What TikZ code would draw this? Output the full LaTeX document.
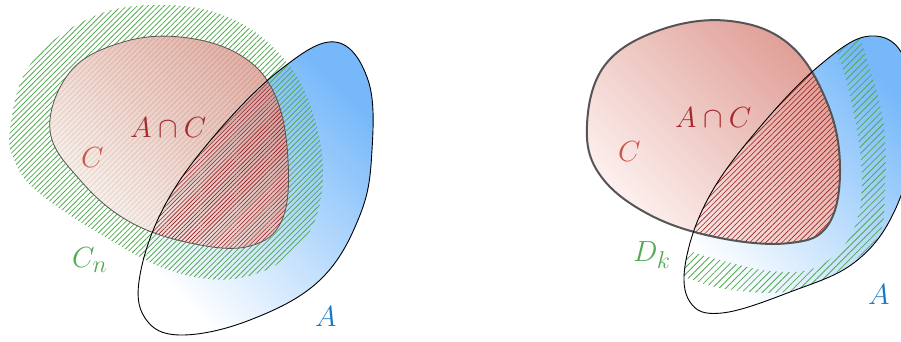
\documentclass[tikz,border=0pt]{standalone}
\usetikzlibrary{patterns.meta}

\definecolor{blueA}{RGB}{118,184,250}
\definecolor{redC}{RGB}{224,158,150}
\definecolor{redlow}{RGB}{253,243,241}
\definecolor{hatchred}{RGB}{150,30,35}
\definecolor{hatchgreen}{RGB}{80,170,80}
\definecolor{lblred}{RGB}{205,85,75}
\definecolor{lbldred}{RGB}{165,40,45}
\definecolor{lblblue}{RGB}{25,120,195}
\definecolor{rimgray}{RGB}{85,85,85}

% left picture
\newcommand{\leftA}{plot[smooth cycle, tension=0.65] coordinates {
    (335,300) (368,262) (372,192) (360,127) (320,62) (250,22) (180,7)
    (145,24) (140,67) (165,137) (215,207) (280,272)}}
\newcommand{\leftC}{plot[smooth cycle, tension=0.65] coordinates {
    (50,212) (70,270) (120,299) (180,305) (240,287) (275,247) (288,182)
    (282,122) (250,96) (195,98) (130,120) (80,162)}}
\newcommand{\leftCn}{plot[smooth cycle, tension=0.65] coordinates {
    (10,212) (30,277) (90,324) (160,337) (230,324) (285,282) (315,222)
    (322,152) (300,97) (245,65) (175,70) (100,108) (38,150) (16,178)}}

% right picture
\newcommand{\rightA}{plot[smooth cycle, tension=0.65] coordinates {
    (870,306) (905,282) (912,202) (895,132) (855,80) (790,50) (722,29)
    (690,40) (686,82) (710,147) (760,215) (820,277)}}
\newcommand{\rightC}{plot[smooth cycle, tension=0.65] coordinates {
    (587,217) (605,277) (660,312) (730,321) (790,297) (828,237) (840,172)
    (828,117) (790,99) (720,104) (650,127) (600,167)}}
\newcommand{\rightDin}{plot[smooth cycle, tension=0.6] coordinates {
    (687,92) (720,82) (770,71) (815,74) (850,105) (862,155) (855,222)
    (837,289) (810,327) (750,347) (650,347) (575,282) (570,182) (630,114)}}
\newcommand{\rightDout}{plot[smooth cycle, tension=0.6] coordinates {
    (650,77) (687,64) (720,54) (770,49) (807,55) (840,72) (878,105)
    (885,155) (883,222) (864,292) (840,362) (750,377) (620,377) (545,282)
    (540,172) (590,92)}}

\begin{document}
\begin{tikzpicture}[
    x=1pt, y=1pt,
    lbl/.style={inner sep=0pt, anchor=base west, font=\Huge, scale=1.17, transform shape},
    blueshade/.style={top color=blueA, bottom color=white, shading angle=-45},
    redshade/.style={top color=redC, bottom color=redlow, shading angle=-45},
    greenhatch/.style={pattern={Lines[angle=45, distance=3.8pt, line width=0.8pt]},
        pattern color=hatchgreen},
    redhatch/.style={pattern={Lines[angle=45, distance=3pt, line width=0.6pt]},
        pattern color=hatchred}
]
    \useasboundingbox (0,0) rectangle (901,342);

    % left: A, C and C_n
    \shade[blueshade] \leftA;
    \path[greenhatch] \leftCn;
    \shade[redshade, fill opacity=0.82] \leftC;
    \begin{scope}
        \clip \leftA;
        \path[redhatch] \leftC;
    \end{scope}
    \draw[rimgray, line width=0.8pt] \leftC;
    \draw[black, line width=0.9pt] \leftA;

    \node[lbl, text=lbldred] (capL) at (130,204) {$A\cap C$};
    \node[lbl, text=lblred] (cL) at (81,174) {$C$};
    \node[lbl, text=hatchgreen] (cn) at (72,74) {$C_n$};
    \node[lbl, text=lblblue] (aL) at (315,15) {$A$};

    % right: A, C and D_k
    \shade[blueshade] \rightA;
    \shade[redshade] \rightC;
    \begin{scope}
        \clip \rightA;
        \path[redhatch, pattern={Lines[angle=45, distance=3.8pt, line width=0.6pt]}] \rightC;
        \path[greenhatch, even odd rule,
            pattern={Lines[angle=45, distance=4.8pt, line width=0.8pt]}] \rightDout \rightDin;
    \end{scope}
    \draw[rimgray, line width=2pt] \rightC;
    \draw[black, line width=0.9pt] \rightA;

    \node[lbl, text=lbldred] (capR) at (675,214) {$A\cap C$};
    \node[lbl, text=lblred] (cR) at (618,180) {$C$};
    \node[lbl, text=hatchgreen] (dk) at (633,80) {$D_k$};
    \node[lbl, text=lblblue] (aR) at (868,37) {$A$};

\end{tikzpicture}
\end{document}
